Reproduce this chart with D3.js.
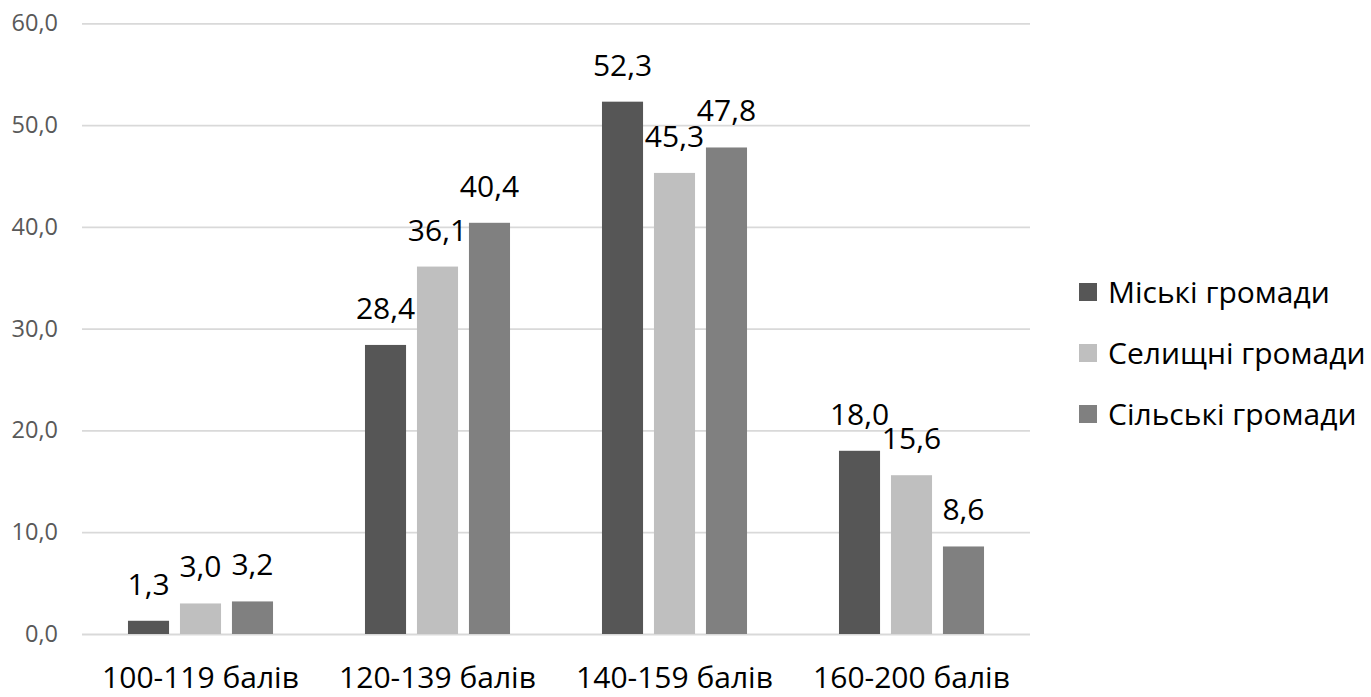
<!DOCTYPE html>
<html>
<head>
<meta charset="utf-8">
<script src="https://cdn.jsdelivr.net/npm/d3@7"></script>
<style>
  html, body { margin: 0; padding: 0; background: #fff; }
  svg { display: block; }
  text { font-family: "Open Sans", sans-serif; }
</style>
</head>
<body>
<svg id="chart" width="1371" height="697"></svg>
<script>
const categories = ["100-119 балів", "120-139 балів", "140-159 балів", "160-200 балів"];
const seriesNames = ["Міські громади", "Селищні громади", "Сільські громади"];
const urbanValues = [1.3, 28.4, 52.3, 18.0];
const settlementValues = [3.0, 36.1, 45.3, 15.6];
const ruralValues = [3.2, 40.4, 47.8, 8.6];
const yTicks = [0, 10, 20, 30, 40, 50, 60];
const seriesColors = ["#565656", "#bfbfbf", "#808080"];

const seriesValues = [urbanValues, settlementValues, ruralValues];
const fmt = v => d3.format(".1f")(v).replace(".", ",");

const svg = d3.select("#chart");
const plotLeft = 82, plotRight = 1030, plotTop = 23.3, plotBottom = 634;

const x0 = d3.scaleBand().domain(categories).range([plotLeft, plotRight]).paddingInner(0.388).paddingOuter(0.194);
const x1 = d3.scaleBand().domain(seriesNames).range([0, x0.bandwidth()]).paddingInner(0.21).paddingOuter(0);
const y = d3.scaleLinear().domain([0, 60]).range([plotBottom, plotTop]);

// gridlines + y tick labels
const yAxis = d3.axisLeft(y).tickValues(yTicks).tickFormat(fmt).tickSize(-(plotRight - plotLeft)).tickPadding(24);
const gy = svg.append("g").attr("transform", `translate(${plotLeft},0)`).call(yAxis);
gy.select(".domain").remove();
gy.selectAll(".tick line").attr("stroke", "#d9d9d9").attr("stroke-width", 1.8);
gy.selectAll(".tick text").attr("fill", "#595959").style("font-size", "23.5px").attr("font-family", "Open Sans, sans-serif");

// bars
const groups = svg.append("g").selectAll("g").data(categories).join("g")
  .attr("transform", d => `translate(${x0(d)},0)`);

groups.each(function(cat, ci) {
  const g = d3.select(this);
  const rows = seriesNames.map((s, si) => ({ s, si, v: seriesValues[si][ci] }));
  g.selectAll("rect").data(rows).join("rect")
    .attr("x", d => x1(d.s))
    .attr("y", d => y(d.v))
    .attr("width", x1.bandwidth())
    .attr("height", d => y(0) - y(d.v))
    .attr("fill", d => seriesColors[d.si]);
  g.selectAll("text.val").data(rows).join("text")
    .attr("class", "val")
    .attr("x", d => x1(d.s) + x1.bandwidth() / 2)
    .attr("y", d => y(d.v) - 26)
    .attr("text-anchor", "middle")
    .attr("fill", "#000")
    .style("font-size", "30px")
    .text(d => fmt(d.v));
});

// x axis labels
const xAxis = d3.axisBottom(x0).tickSize(0).tickPadding(0);
const gx = svg.append("g").attr("transform", `translate(0,${plotBottom})`).call(xAxis);
gx.select(".domain").remove();
gx.selectAll(".tick text")
  .attr("y", 54).attr("dy", 0)
  .attr("fill", "#000")
  .style("font-size", "30px")
  .attr("font-family", "Open Sans, sans-serif");

// legend
const legend = svg.append("g").selectAll("g").data(seriesNames).join("g")
  .attr("transform", (d, i) => `translate(1079,${292 + i * 61})`);
legend.append("rect").attr("x", 0).attr("y", -9).attr("width", 18).attr("height", 18)
  .attr("fill", (d, i) => seriesColors[i]);
legend.append("text").attr("x", 29).attr("y", 11)
  .attr("fill", "#000").style("font-size", "30px").text(d => d);
</script>
</body>
</html>
